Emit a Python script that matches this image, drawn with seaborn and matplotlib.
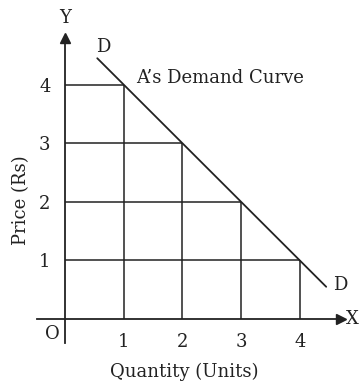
import matplotlib
matplotlib.use("Agg")
import matplotlib.pyplot as plt
import pandas as pd
import seaborn as sns

sns.set_theme(style="white")
plt.rcParams["font.family"] = ["DejaVu Serif"]

# demand schedule of consumer A
QTY = [1, 2, 3, 4]
PRICE = [4, 3, 2, 1]
# demand line runs a little past the schedule at both ends
LINE_QTY = [0.55, 1, 2, 3, 4, 4.45]
LINE_PRICE = [4.45, 4, 3, 2, 1, 0.55]
TICKS = [1, 2, 3, 4]

INK = "#222222"
FS = 13


def main():
    fig = plt.figure(figsize=(3.61, 3.81), dpi=100)
    ax = fig.add_axes([0, 0, 1, 1])
    ax.set_xlim(-1.107, 5.043)
    ax.set_ylim(-1.058, 5.444)
    ax.set_facecolor("white")

    # axes through the origin
    for side in ["top", "right"]:
        ax.spines[side].set_visible(False)
    ax.spines["left"].set_position(("data", 0))
    ax.spines["bottom"].set_position(("data", 0))
    ax.spines["left"].set_bounds(-0.41, 4.75)
    ax.spines["bottom"].set_bounds(-0.48, 4.65)
    for side in ["left", "bottom"]:
        ax.spines[side].set_color(INK)
        ax.spines[side].set_linewidth(1.3)
    ax.plot(0, 4.8, marker="^", color=INK, markersize=7, clip_on=False)
    ax.plot(4.7, 0, marker=">", color=INK, markersize=7, clip_on=False)

    ax.set_xticks(TICKS)
    ax.set_yticks(TICKS)
    ax.set_xticklabels([str(t) for t in TICKS])
    ax.set_yticklabels([str(t) for t in TICKS])
    ax.tick_params(axis="both", direction="out", color=INK, width=1.1,
                   labelsize=FS, labelcolor=INK)
    ax.tick_params(axis="x", length=8, pad=2)
    ax.tick_params(axis="y", length=9.5, pad=1)
    ax.grid(False)

    # guide lines from each point back to the axes
    ax.vlines(QTY, 0, PRICE, color=INK, linewidth=1.1)
    ax.hlines(PRICE, 0, QTY, color=INK, linewidth=1.1)

    df = pd.DataFrame({"qty": LINE_QTY, "price": LINE_PRICE})
    sns.lineplot(data=df, x="qty", y="price", sort=False, estimator=None,
                 color=INK, linewidth=1.3, ax=ax)
    ax.set_xlabel("")
    ax.set_ylabel("")

    ax.text(0.65, 4.64, "D", fontsize=FS, color=INK, ha="center", va="center")
    ax.text(4.69, 0.58, "D", fontsize=FS, color=INK, ha="center", va="center")
    ax.text(1.22, 4.11, "A\u2019s Demand Curve", fontsize=FS, color=INK,
            ha="left", va="center")
    ax.text(-0.22, -0.25, "O", fontsize=FS, color=INK, ha="center", va="center")
    ax.text(0, 5.14, "Y", fontsize=FS, color=INK, ha="center", va="center")
    ax.text(4.89, 0, "X", fontsize=FS, color=INK, ha="center", va="center")
    ax.text(-0.74, 2.03, "Price (Rs)", fontsize=FS, color=INK, rotation=90,
            ha="center", va="center")
    ax.text(2.03, -0.9, "Quantity (Units)", fontsize=FS, color=INK,
            ha="center", va="center")

    fig.savefig("out.png", dpi=100)
    plt.close(fig)


if __name__ == "__main__":
    main()
